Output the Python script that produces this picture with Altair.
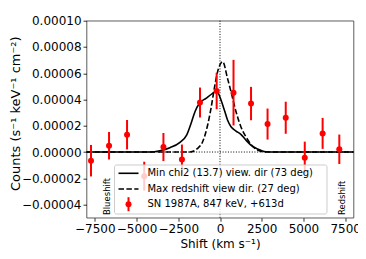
import altair as alt
import pandas as pd

FONT = "DejaVu Sans"

# ---- measured data (SN 1987A, 847 keV, +613d) ----
shift_pts = [-7730, -6650, -5570, -4540, -3390, -2280, -1200, -200, 810, 1860, 2850, 3940, 5080, 6150, 7150]
counts_pts = [-6.6e-6, 4.8e-6, 1.32e-5, -1.84e-5, 3.8e-6, -5.7e-6, 3.77e-5, 4.65e-5, 4.52e-5,
              3.69e-5, 2.13e-5, 2.61e-5, -4.3e-6, 1.42e-5, 2.1e-6]
err_pts = [1.2e-5, 1.05e-5, 1.12e-5, 1.1e-5, 1.07e-5, 1.14e-5, 1.14e-5, 1.39e-5, 2.5e-5,
           1.27e-5, 1.18e-5, 1.22e-5, 1.22e-5, 1.18e-5, 1.12e-5]

# ---- model curves ----
minchi_x = [-8000, -4200, -3600, -3000, -2400, -2000, -1700, -1500, -1230, -840, -440, -200, 60, 260,
            450, 660, 960, 1250, 1550, 1850, 2250, 2750, 3350, 8000]
minchi_y = [0, 0, 1e-6, 3.3e-6, 7.4e-6, 1.29e-5, 2.31e-5, 3.07e-5, 3.71e-5, 4.09e-5, 4.47e-5, 4.65e-5,
            3.96e-5, 3.2e-5, 2.44e-5, 1.93e-5, 1.6e-5, 1.35e-5, 9.1e-6, 5.3e-6, 2.3e-6, 2e-7, 0, 0]

maxred_x = [-8000, -1800, -1340, -1040, -740, -540, -340, -140, 160, 450, 660, 960, 1250, 1550, 1850,
            2250, 2750, 8000]
maxred_y = [0, 0, 2.8e-6, 7.8e-6, 2.06e-5, 3.33e-5, 4.85e-5, 6.12e-5, 6.88e-5, 5.61e-5, 4.59e-5,
            3.07e-5, 1.93e-5, 1.17e-5, 5.9e-6, 1.5e-6, 0, 0]

x_ticks = [-7500, -5000, -2500, 0, 2500, 5000, 7500]
y_ticks = [-4e-5, -2e-5, 0, 2e-5, 4e-5, 6e-5, 8e-5, 1e-4]
legend_labels = ["Min chi2 (13.7) view. dir (73 deg)",
                 "Max redshift view dir. (27 deg)",
                 "SN 1987A, 847 keV, +613d"]
annotations = ["Blueshift", "Redshift"]
annot_x = [-6790, 7330]
annot_y = [-4.8e-5, -4.8e-5]

pts = pd.DataFrame({"shift": shift_pts, "counts": counts_pts})
pts["lo"] = pts["counts"] - pd.Series(err_pts)
pts["hi"] = pts["counts"] + pd.Series(err_pts)
minchi = pd.DataFrame({"shift": minchi_x, "counts": minchi_y})
maxred = pd.DataFrame({"shift": maxred_x, "counts": maxred_y})
annot = pd.DataFrame({"shift": annot_x, "counts": annot_y, "label": annotations})

W, H = 267, 197

x_scale = alt.Scale(domain=[-8000, 8000], nice=False, zero=False)
y_scale = alt.Scale(domain=[-5e-5, 1e-4], nice=False, zero=False)

x_axis = alt.Axis(values=x_ticks, format="d", title="Shift (km s⁻¹)", grid=False, domain=False,
                  tickColor="black", tickWidth=0.8, tickSize=3.5, labelFontSize=12, labelFont=FONT,
                  labelColor="black", labelPadding=2, labelFlush=False, titleFontSize=12,
                  titleFont=FONT, titleFontWeight="normal", titleColor="black",
                  titleX=W / 2, titleY=30.3, titleBaseline="alphabetic", titleAlign="center")
y_axis = alt.Axis(values=y_ticks, format=".5f", title="Counts (s⁻¹ keV⁻¹ cm⁻²)", grid=False,
                  domain=False, tickColor="black", tickWidth=0.8, tickSize=3.5, labelFontSize=12,
                  labelFont=FONT, labelColor="black", labelPadding=2, labelFlush=False,
                  titleFontSize=13, titleFont=FONT, titleFontWeight="normal", titleColor="black",
                  titleAngle=270, titleX=-67.5, titleY=92.5, titleBaseline="alphabetic",
                  titleAlign="center")


def X(field):
    return alt.X(f"{field}:Q", scale=x_scale, axis=x_axis)


def Y(field):
    return alt.Y(f"{field}:Q", scale=y_scale, axis=y_axis)


hline = alt.Chart(pd.DataFrame({"counts": [0]})).mark_rule(
    color="black", strokeWidth=1, strokeDash=[1, 1.65]).encode(y=Y("counts"))
vline = alt.Chart(pd.DataFrame({"shift": [0]})).mark_rule(
    color="black", strokeWidth=1, strokeDash=[1, 1.65]).encode(x=X("shift"))

line_min = alt.Chart(minchi).mark_line(color="black", strokeWidth=1.6, interpolate="monotone").encode(
    x=X("shift"), y=Y("counts"))
line_max = alt.Chart(maxred).mark_line(color="black", strokeWidth=1.6, strokeDash=[5.5, 2.4],
                                       interpolate="monotone").encode(x=X("shift"), y=Y("counts"))

errbars = alt.Chart(pts).mark_rule(color="red", strokeWidth=2).encode(
    x=X("shift"), y=Y("lo"), y2="hi")
dots = alt.Chart(pts).mark_point(color="red", filled=True, opacity=1, size=36, shape="circle").encode(
    x=X("shift"), y=Y("counts"))

annot_text = alt.Chart(annot).mark_text(angle=270, align="left", baseline="middle", fontSize=8.5,
                                        font=FONT, color="black").encode(
    x=X("shift"), y=Y("counts"), text="label:N")

# ---- hand-made legend ----
one = pd.DataFrame({"k": [0]})
leg_box = alt.Chart(one).mark_rect(fill="white", fillOpacity=0.8, stroke="#cccccc", strokeWidth=1,
                                   cornerRadius=2).encode(
    x=alt.value(28), x2=alt.value(240.5), y=alt.value(144.3), y2=alt.value(193.3))
leg_l1 = alt.Chart(one).mark_rule(color="black", strokeWidth=1.6).encode(
    x=alt.value(32), x2=alt.value(52), y=alt.value(152.6))
leg_l2 = alt.Chart(one).mark_rule(color="black", strokeWidth=1.6, strokeDash=[5.5, 2.4]).encode(
    x=alt.value(32), x2=alt.value(52), y=alt.value(168.3))
leg_eb = alt.Chart(one).mark_rule(color="red", strokeWidth=2).encode(
    x=alt.value(42), y=alt.value(176.5), y2=alt.value(190.5))
leg_pt = alt.Chart(one).mark_point(color="red", filled=True, opacity=1, size=36).encode(
    x=alt.value(42), y=alt.value(183.5))
leg_texts = []
for lab, yy in zip(legend_labels, [152.6, 168.3, 183.5]):
    leg_texts.append(alt.Chart(pd.DataFrame({"label": [lab]})).mark_text(
        align="left", baseline="middle", fontSize=10, font=FONT, color="black").encode(
        x=alt.value(61), y=alt.value(yy), text="label:N"))

chart = alt.layer(
    hline, vline, line_max, line_min, errbars, dots, annot_text,
    leg_box, leg_l1, leg_l2, leg_eb, leg_pt, *leg_texts
).properties(
    width=W, height=H,
    title=alt.Title("W15-2L ⁵⁶Co", fontSize=14, font=FONT, fontWeight="normal", anchor="middle",
                    frame="group", baseline="alphabetic", offset=4.7, color="black"),
    autosize=alt.AutoSizeParams(type="none"),
    padding={"left": 78.5, "top": 12.7, "right": 4.5, "bottom": 33},
).configure_view(stroke="#333333", strokeWidth=0.8)

chart.save("out.html", embed_options={"renderer": "svg", "actions": False})
